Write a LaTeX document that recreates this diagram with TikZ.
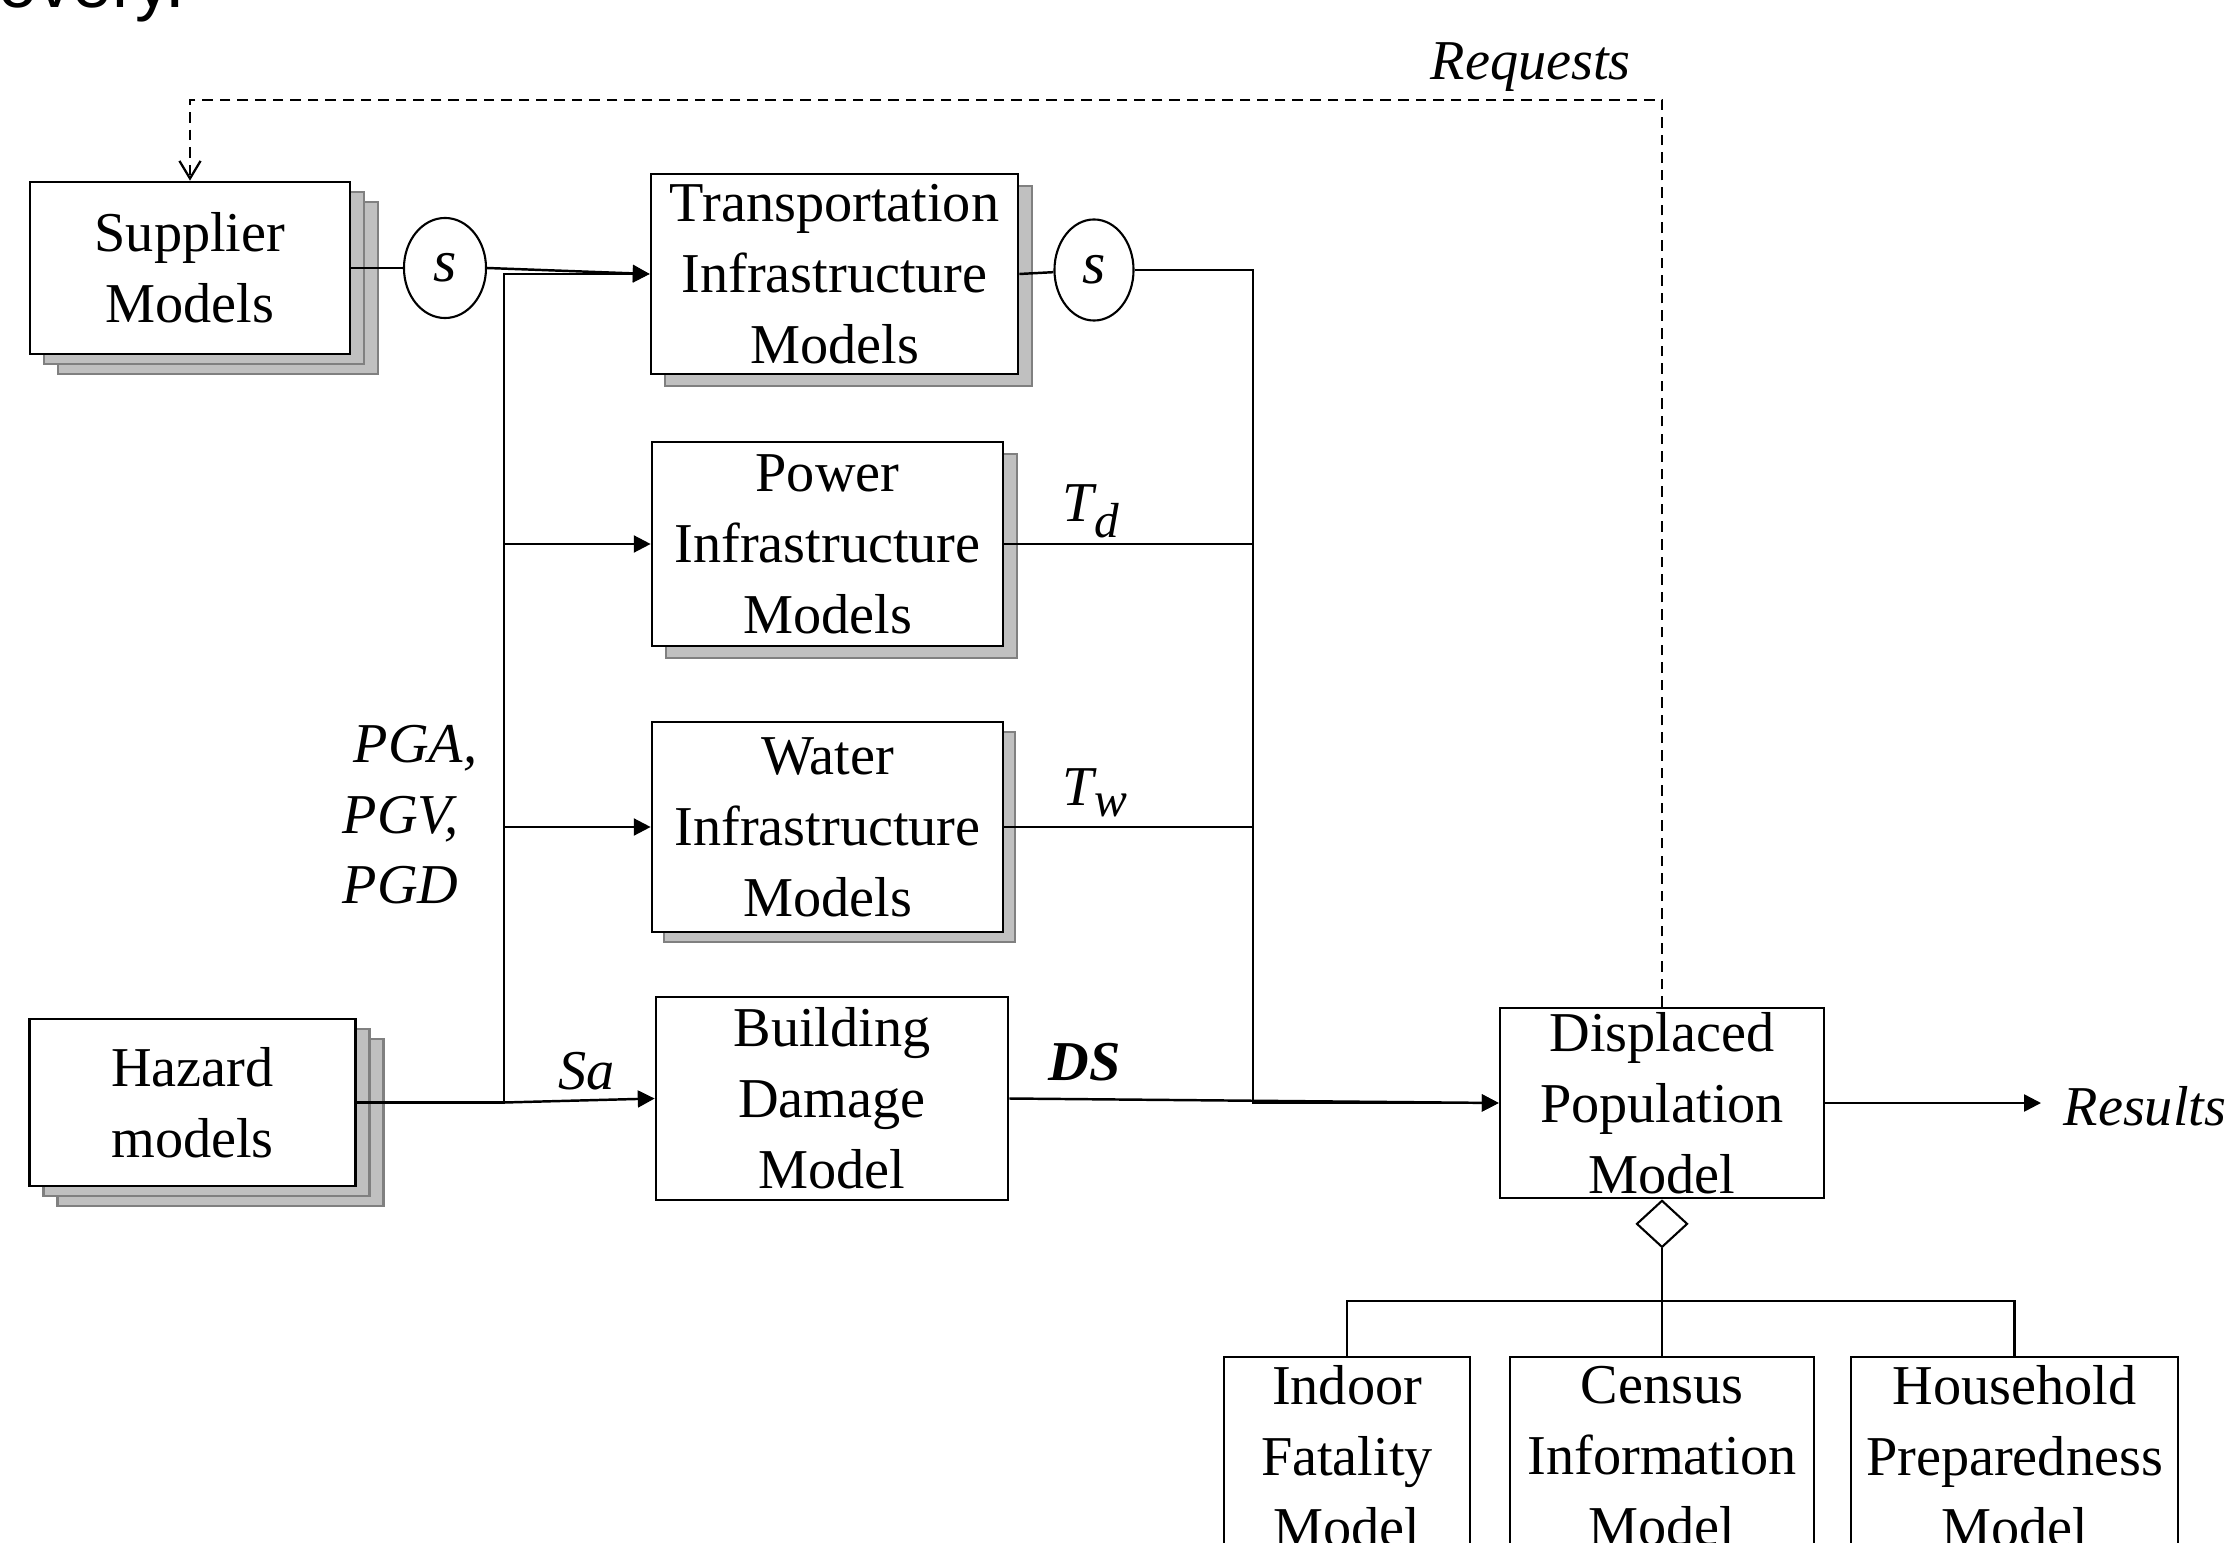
\documentclass[tikz,border=0pt]{standalone}
\usepackage{fontspec}
\setmainfont{Liberation Serif}
\newfontfamily\sansfnt{Liberation Sans}
\usetikzlibrary{arrows.meta,shapes.geometric,shadows}
\definecolor{shfill}{HTML}{C0C0C0}
\definecolor{shdraw}{HTML}{808080}
\newcommand{\boxfnt}{\fontsize{16pt}{20.2pt}\selectfont}
\newcommand{\lblfnt}{\fontsize{16pt}{19pt}\selectfont\itshape}
\newcommand{\tsub}[3]{#1\raisebox{-#3}{\fontsize{14pt}{14pt}\selectfont #2}}
\begin{document}
\begin{tikzpicture}[x=0.01cm,y=-0.01cm,
  box/.style={draw, line width=0.7pt, fill=white, inner sep=0pt, align=center, font=\boxfnt},
  dshadow/.style={double copy shadow={shadow xshift=0.14cm, shadow yshift=-0.1cm, fill=shfill, draw=shdraw, line width=0.7pt}},
  sshadow/.style={copy shadow={shadow xshift=0.14cm, shadow yshift=-0.12cm, fill=shfill, draw=shdraw, line width=0.7pt}},
  sbub/.style={draw, ellipse, line width=0.6pt, fill=white, inner sep=0pt, font=\fontsize{17pt}{17pt}\selectfont\itshape},
  conn/.style={line width=0.7pt},
  arr/.style={conn, -{Triangle[length=4.8pt,width=4.8pt]}},
  dashline/.style={line width=0.65pt, dash pattern=on 3pt off 2pt, -{Straight Barb[length=5pt,width=6pt]}},
  lbl/.style={inner sep=0pt, font=\lblfnt}
]
\useasboundingbox (0,0) rectangle (2237,1543);
\clip (0,0) rectangle (2237,1543);
\fill[white] (0,0) rectangle (2237,1543);

% cropped caption fragment
\node[inner sep=0pt, anchor=base west, font=\sansfnt\fontsize{20pt}{20pt}\selectfont] (cap) at (-2,8) {overy.};

% boxes
\node[box, dshadow, minimum width=3.2cm, minimum height=1.72cm] (supplier) at (190,268) {Supplier\\Models};
\node[box, dshadow, minimum width=3.26cm, minimum height=1.67cm] (hazard) at (192.5,1102.5) {Hazard\\models};
\node[box, sshadow, minimum width=3.67cm, minimum height=2.0cm] (transport) at (834.5,274) {Transportation\\Infrastructure\\Models};
\node[box, sshadow, minimum width=3.51cm, minimum height=2.04cm] (power) at (827.5,544) {Power\\Infrastructure\\Models};
\node[box, copy shadow={shadow xshift=0.12cm, shadow yshift=-0.1cm, fill=shfill, draw=shdraw, line width=0.7pt}, minimum width=3.51cm, minimum height=2.1cm] (water) at (827.5,827) {Water\\Infrastructure\\Models};
\node[box, minimum width=3.52cm, minimum height=2.03cm] (building) at (832,1098.5) {Building\\Damage\\Model};
\node[box, minimum width=3.24cm, minimum height=1.9cm] (displaced) at (1662,1103) {Displaced\\Population\\Model};

\node[box, line width=0.6pt, anchor=north, minimum width=2.46cm, minimum height=1.98cm] (indoor) at (1347,1356) {Indoor\\Fatality\\Model};
\node[box, line width=0.6pt, anchor=north, minimum width=3.04cm, minimum height=1.98cm] (census) at (1662,1356) {Census\\Information\\Model};
\node[box, line width=0.6pt, anchor=north, minimum width=3.27cm, minimum height=1.98cm] (household) at (2014.5,1356) {Household\\Preparedness\\Model};

% s bubbles
\node[sbub, minimum width=0.82cm, minimum height=1.0cm] (s1) at (445,268) {s};
\node[sbub, minimum width=0.79cm, minimum height=1.01cm] (s2) at (1094,270) {s};

% bus coordinates
\coordinate (bx) at (504,0);
\coordinate (rx) at (1253,0);
\coordinate (resin) at (2041,1103);

% left side connectors
\draw[conn] (supplier.east) -- (s1.west);
\draw[arr] (s1.east) -- (transport.west);
\draw[arr] (hazard.east) -- (hazard.east -| bx) -- (transport.west -| bx) -- (transport.west);
\draw[conn, line width=1.1pt] (hazard.east) -- (hazard.east -| bx);
\draw[arr] (power.west -| bx) -- (power.west);
\draw[arr] (water.west -| bx) -- (water.west);
\draw[arr] (hazard.east -| bx) -- (building.west);

% right side connectors
\draw[conn] (transport.east) -- (s2);
\draw[arr] (s2.east) -- (s2.east -| rx) -- (displaced.west -| rx) -- (displaced.west);
\draw[conn] (power.east) -- (power.east -| rx);
\draw[conn] (water.east) -- (water.east -| rx);
\draw[arr] (building.east) -- (displaced.west);
\draw[arr] (displaced.east) -- (resin);

% requests feedback
\draw[dashline] (displaced.north) -- ++(0,-907) -| (supplier.north);

% aggregation
\node[draw, diamond, fill=white, line width=0.6pt, minimum width=0.51cm, minimum height=0.47cm, inner sep=0pt, anchor=north] (dia) at (displaced.south) {};
\draw[conn, line width=0.6pt] (dia.south) -- (census.north);
\draw[conn, line width=0.6pt] (indoor.north) -- ++(0,-55) -| (household.north);

% labels
\node[lbl, anchor=base west] (lreq) at (1430,80) {Requests};
\node[lbl, anchor=base west] (lres) at (2063,1125) {Results};
\node[lbl, anchor=base west] (ltd) at (1062,522) {\tsub{T}{d}{4.3pt}};
\node[lbl, anchor=base west] (ltw) at (1062,805) {\tsub{T}{w}{3.4pt}};
\node[lbl, anchor=base west] (lpga) at (353,762) {PGA,};
\node[lbl, anchor=base west] (lpgv) at (342,833) {PGV,};
\node[lbl, anchor=base west] (lpgd) at (342,903) {PGD};
\node[lbl, anchor=base west] (lsa) at (558,1089) {Sa};
\node[lbl, anchor=base west, font=\fontsize{16pt}{19pt}\selectfont\bfseries\itshape] (lds) at (1048,1080) {DS};
\end{tikzpicture}
\end{document}
